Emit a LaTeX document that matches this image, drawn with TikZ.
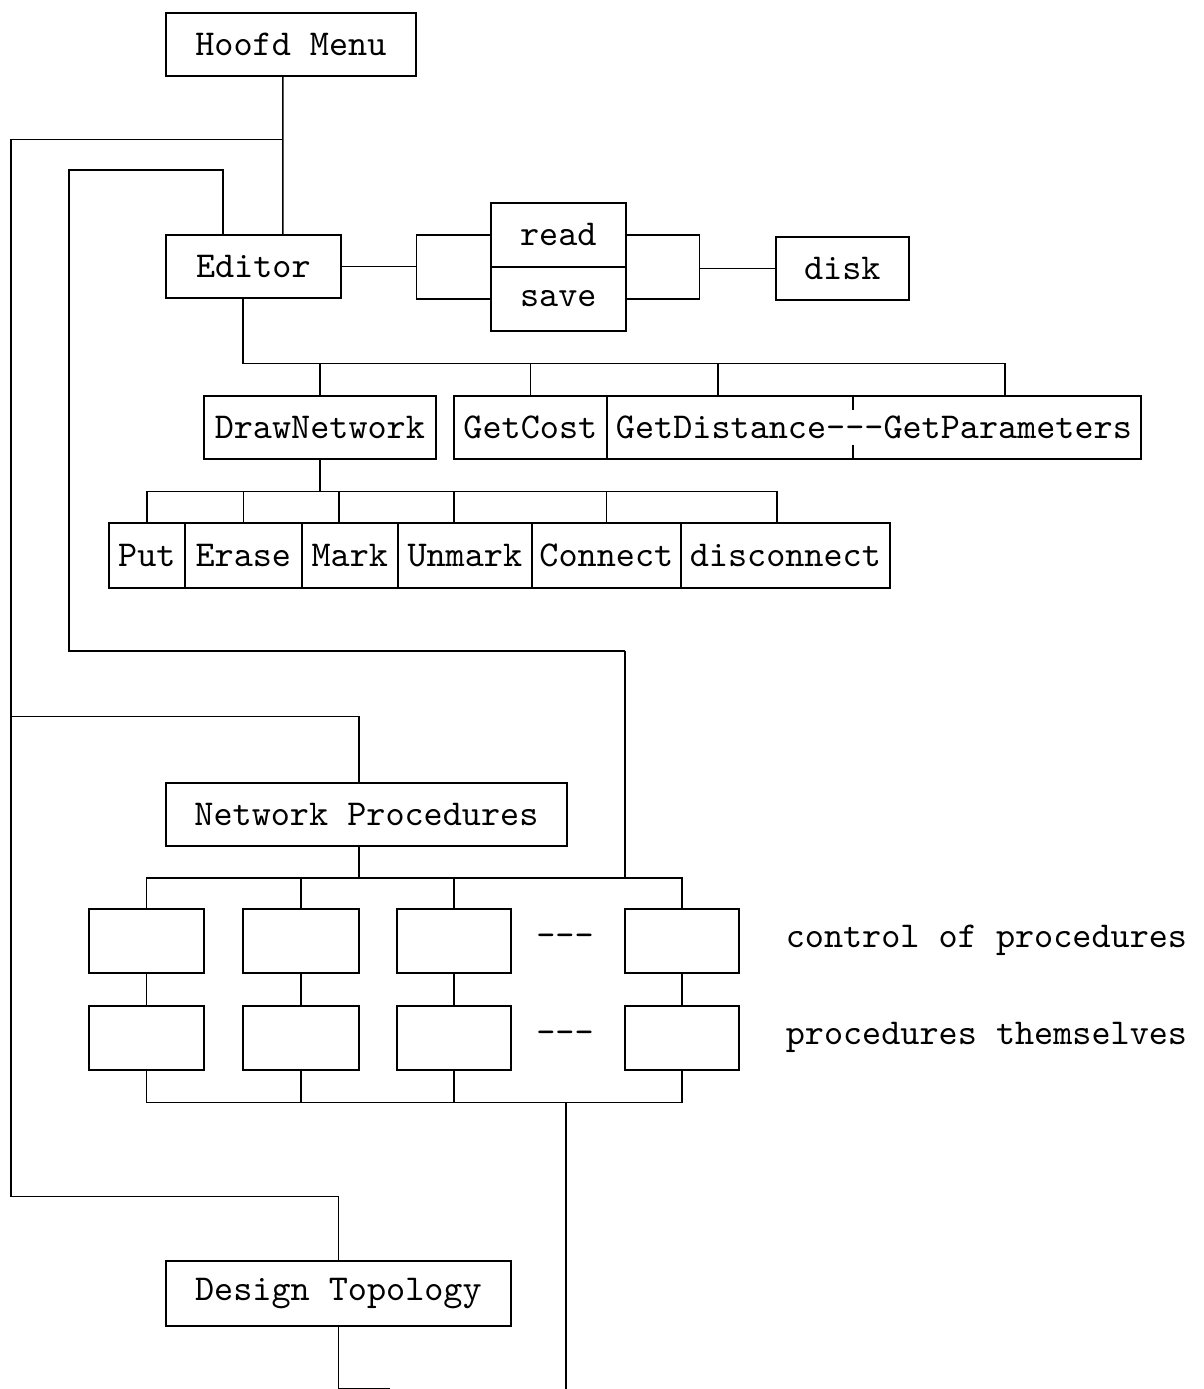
\documentclass[tikz,border=0pt]{standalone}
\usepackage{fontspec}
\usetikzlibrary{calc}
\newcommand\trip{-\kern0pt-\kern0pt-}
\begin{document}
\begin{tikzpicture}[x=0.01cm, y=-0.01cm, line width=0.45pt, font=\ttfamily\fontsize{10.35}{12}\selectfont,
    box/.style={draw, inner sep=0pt, anchor=north west, minimum height=0.63cm}]
  \useasboundingbox (0,0) rectangle (1203,1389);
  % menu and editor
  \node[box, minimum width=2.5cm] (hoofd) at (165,12) {Hoofd Menu};
  \node[box, minimum width=1.75cm] (editor) at (165,234) {Editor};
  \node[box, minimum width=1.35cm, minimum height=0.64cm] (read) at (490,202) {read};
  \node[box, minimum width=1.35cm, minimum height=0.64cm] (save) at (490,266) {save};
  \node[box, minimum width=1.33cm] (disk) at (775,236) {disk};
  % second level
  \node[box, minimum width=2.32cm] (drawnet) at (203,395) {DrawNetwork};
  \node[box, minimum width=1.53cm] (getcost) at (453,395) {GetCost};
  \node[box, minimum width=5.34cm] (getdp) at (606,395) {GetDistance\trip GetParameters};
  \foreach \n/\x/\w/\lbl in {put/108/0.76/Put, erase/184/1.17/Erase, mark/301/0.96/Mark, unmark/397/1.34/Unmark, connect/531/1.49/Connect, disc/680/2.09/disconnect}
    \node[box, minimum width=\w cm, minimum height=0.65cm] (\n) at (\x,522) {\lbl};
  % procedures
  \node[box, minimum width=4.01cm] (netproc) at (165,782) {Network Procedures};
  \foreach \i/\x/\w in {1/88/1.15, 2/242/1.16, 3/396/1.14, 4/624/1.14}{
    \node[box, minimum width=\w cm, minimum height=0.64cm] (c\i) at (\x,908) {};
    \node[box, minimum width=\w cm, minimum height=0.64cm] (p\i) at (\x,1005) {};
  }
  \node (dash1) at (565,940) {\trip};
  \node (dash2) at (565,1037) {\trip};
  \node[anchor=west, inner sep=0pt] (lctl) at (785,940) {control of procedures};
  \node[anchor=west, inner sep=0pt] (lproc) at (785,1037) {procedures themselves};
  \node[box, minimum width=3.45cm, minimum height=0.65cm] (design) at (165,1260) {Design Topology};
  % trunk and side rails
  \draw ([xshift=-0.08cm]hoofd.south) -- ++(0,63) coordinate (j1) -- ([xshift=0.295cm]editor.north);
  \draw (j1) -- ++(-272,0) coordinate (rail) -- ++(0,1057) -| (design.north);
  \draw (rail) ++(0,577) -| ([xshift=-0.075cm]netproc.north);
  \draw ([xshift=-0.305cm]editor.north) -- ++(0,-64) -- ++(-154,0) -- ++(0,481) -- ++(556,0) coordinate (lp);
  % editor to read/save and disk
  \draw (editor.east) -- ++(75,0) coordinate (lb);
  \draw (read.west) -| (lb) |- (save.west);
  \draw (read.east) -- ++(73,0) coordinate (rb) |- (save.east);
  \draw (disk.west) -- (disk.west -| rb);
  % editor bus
  \draw ([xshift=-0.105cm]editor.south) -- ++(0,65) coordinate (ebus);
  \coordinate (gd) at ($(getdp.north west)+(112,0)$);
  \coordinate (gp) at ($(getdp.north west)+(399,0)$);
  \draw (ebus) -| (gp);
  \foreach \n in {drawnet.north, getcost.north, gd} \draw (\n) -- (\n |- ebus);
  \draw ($(getdp.north west)+(247,0)$) -- ++(0,15) ($(getdp.south west)+(247,0)$) -- ++(0,-15);
  % drawnetwork bus
  \draw (drawnet.south) -- ++(0,32) coordinate (dbus);
  \path ([xshift=-0.085cm]disc.north) coordinate (dn);
  \draw (put.north) |- (dbus) -| (dn);
  \foreach \n/\s in {erase/0, mark/-0.11, unmark/-0.11, connect/0}{
    \path ([xshift=\s cm]\n.north) coordinate (t);
    \draw (t) -- (t |- dbus);
  }
  % procedure buses
  \path (c1.north) ++(0,-30) coordinate (cbus);
  \path ([xshift=-0.075cm]netproc.south) coordinate (np);
  \draw (lp) -- (lp |- cbus);
  \draw (np) -- (np |- cbus);
  \draw (c1.north) -- (cbus) -| (c4.north);
  \foreach \i in {2,3} \draw (c\i.north) -- (c\i.north |- cbus);
  \foreach \i in {1,...,4} \draw (c\i.south) -- (p\i.north);
  \path (p1.south) ++(0,32) coordinate (pbus);
  \draw (p1.south) -- (pbus) -| (p4.south);
  \foreach \i in {2,3} \draw (p\i.south) -- (p\i.south |- pbus);
  \coordinate (out) at (566,1389);
  \draw (out |- pbus) -- (out);
  \draw (design.south) -- ++(0,62) -- ++(52,0);
\end{tikzpicture}
\end{document}
